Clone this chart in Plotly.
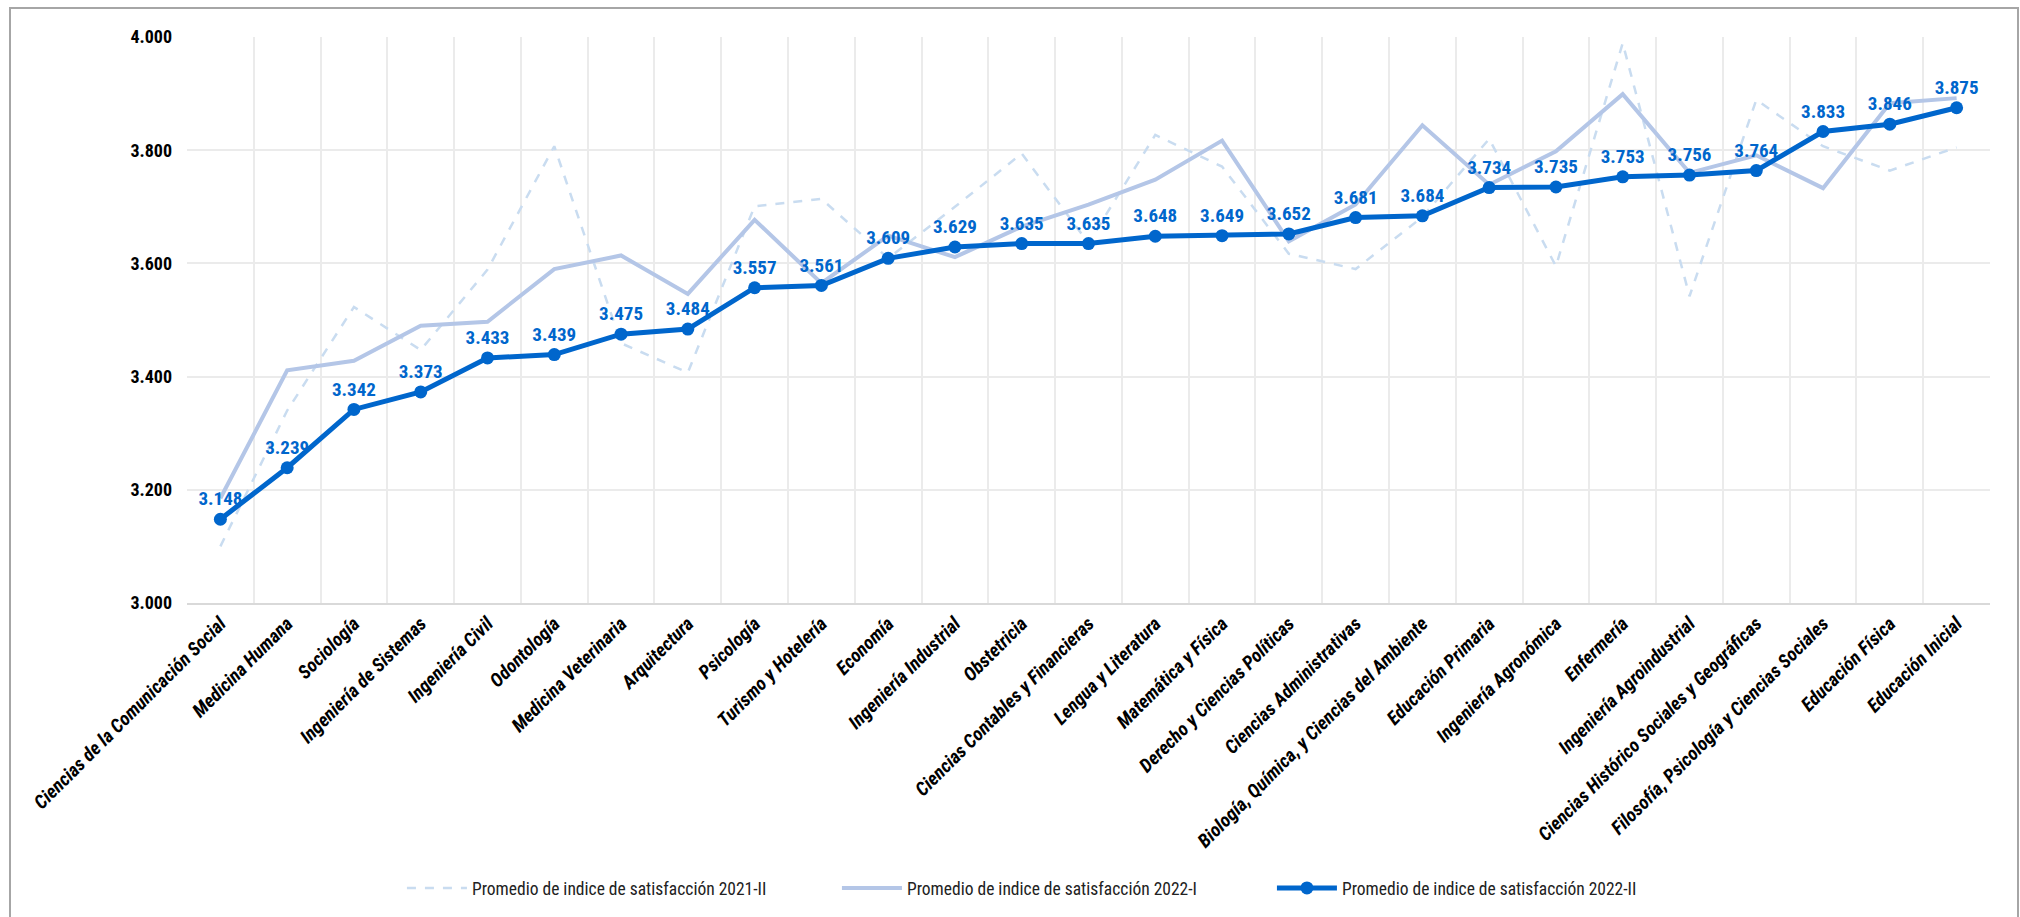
import plotly.graph_objects as go

carreras = [
    "Ciencias de la Comunicación Social", "Medicina Humana", "Sociología",
    "Ingeniería de Sistemas", "Ingeniería Civil", "Odontología",
    "Medicina Veterinaria", "Arquitectura", "Psicología", "Turismo y Hotelería",
    "Economía", "Ingeniería Industrial", "Obstetricia",
    "Ciencias Contables y Financieras", "Lengua y Literatura",
    "Matemática y Física", "Derecho y Ciencias Políticas",
    "Ciencias Administrativas", "Biología, Química, y Ciencias del Ambiente",
    "Educación Primaria", "Ingeniería Agronómica", "Enfermería",
    "Ingeniería Agroindustrial", "Ciencias Histórico Sociales y Geográficas",
    "Filosofía, Psicología y Ciencias Sociales", "Educación Física",
    "Educación Inicial",
]

promedio_2021_II = [
    3.100, 3.340, 3.523, 3.447, 3.589, 3.807, 3.459, 3.407, 3.701, 3.714,
    3.609, 3.700, 3.794, 3.636, 3.827, 3.771, 3.617, 3.590, 3.682, 3.820,
    3.595, 3.989, 3.542, 3.889, 3.807, 3.764, 3.805,
]

promedio_2022_I = [
    3.185, 3.411, 3.428, 3.490, 3.497, 3.590, 3.614, 3.546, 3.677, 3.565,
    3.649, 3.611, 3.665, 3.704, 3.748, 3.817, 3.639, 3.704, 3.844, 3.739,
    3.798, 3.899, 3.760, 3.791, 3.733, 3.883, 3.892,
]

promedio_2022_II = [
    3.148, 3.239, 3.342, 3.373, 3.433, 3.439, 3.475, 3.484, 3.557, 3.561,
    3.609, 3.629, 3.635, 3.635, 3.648, 3.649, 3.652, 3.681, 3.684, 3.734,
    3.735, 3.753, 3.756, 3.764, 3.833, 3.846, 3.875,
]

nombres = [
    "Promedio de indice de satisfacción 2021-II",
    "Promedio de indice de satisfacción 2022-I",
    "Promedio de indice de satisfacción 2022-II",
]

FONT = "Liberation Sans Narrow, Arial Narrow, Roboto Condensed, sans-serif"
AZUL = "#0066CC"

fig = go.Figure()

fig.add_trace(go.Scatter(
    x=carreras, y=promedio_2021_II, name=nombres[0], mode="lines",
    line=dict(color="#C9DCF0", width=2.5, dash="dash"),
))
fig.add_trace(go.Scatter(
    x=carreras, y=promedio_2022_I, name=nombres[1], mode="lines",
    line=dict(color="#B4C6E7", width=4),
))
fig.add_trace(go.Scatter(
    x=carreras, y=promedio_2022_II, name=nombres[2], mode="lines+markers+text",
    line=dict(color=AZUL, width=5),
    marker=dict(color=AZUL, size=13),
    texttemplate="%{y:.3f}", textposition="top center",
    textfont=dict(family=FONT, size=19, color=AZUL, weight="bold"),
))

# plot area spans 187..1990 px horizontally and 37..603 px vertically
L, R, T, B = 187, 30, 37, 314
W, H = 2020, 917
pw, ph = W - L - R, H - T - B


def px_x(p):
    return (p - L) / pw


def px_y(p):
    return 1 - (p - T) / ph


fig.add_shape(
    type="rect", xref="paper", yref="paper",
    x0=px_x(10), x1=px_x(2018), y0=px_y(930), y1=px_y(8),
    line=dict(color="#A6A6A6", width=2), fillcolor="rgba(0,0,0,0)", layer="below",
)

fig.update_layout(
    width=W, height=H,
    margin=dict(l=L, r=R, t=T, b=B),
    paper_bgcolor="white", plot_bgcolor="white",
    font=dict(family=FONT, color="black"),
    showlegend=True,
    legend=dict(
        orientation="h", xref="container", yref="container",
        x=0.522, xanchor="center", y=1 - 888 / H, yanchor="middle",
        font=dict(family=FONT, size=17.5, color="#222222"),
        entrywidth=360, itemwidth=60, traceorder="normal",
    ),
    xaxis=dict(
        type="category", tickson="boundaries", ticks="",
        showgrid=True, gridcolor="#EBEBEB", gridwidth=1.5,
        showline=True, linecolor="#D9D9D9", linewidth=2,
        tickangle=-45,
        tickfont=dict(family=FONT, size=19, color="black", weight="bold", style="italic"),
        range=[-0.5, len(carreras) - 0.5],
        fixedrange=True,
    ),
    yaxis=dict(
        range=[3.0, 4.0], dtick=0.2, tickformat=".3f",
        showgrid=True, gridcolor="#EBEBEB", gridwidth=1.5,
        zeroline=False, showline=False, ticks="",
        ticklabelstandoff=14,
        tickfont=dict(family=FONT, size=18, color="black", weight="bold"),
    ),
)

fig.write_html("out.html")
